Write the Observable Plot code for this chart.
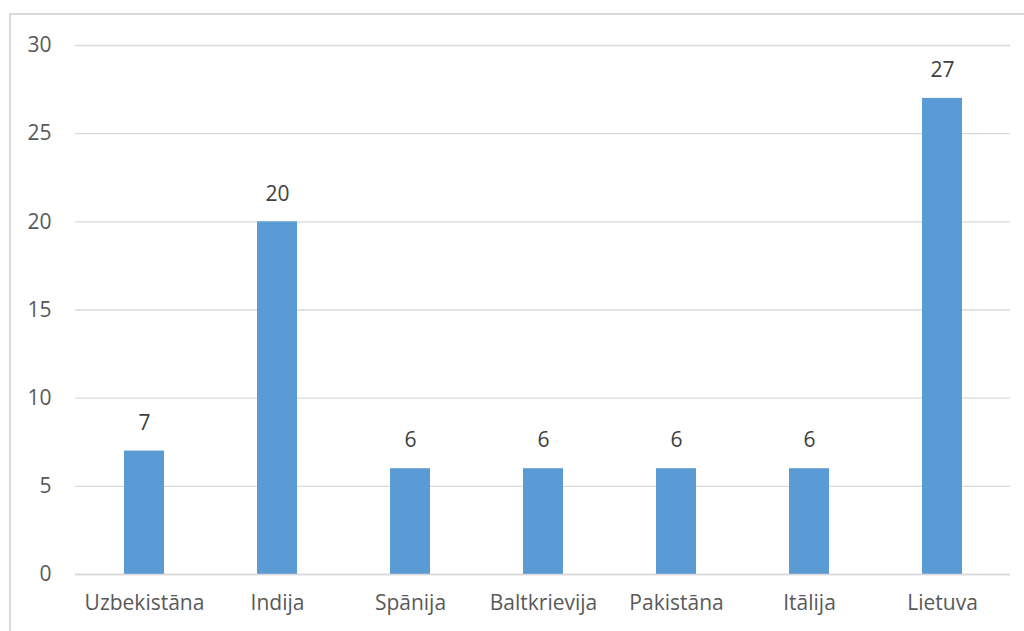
<!DOCTYPE html>
<html>
<head>
<meta charset="utf-8">
<script src="https://cdn.jsdelivr.net/npm/d3@7"></script>
<script src="https://cdn.jsdelivr.net/npm/@observablehq/plot@0.6"></script>
<style>
  html, body { margin: 0; padding: 0; background: #fff; }
  #wrap { position: relative; width: 1024px; height: 631px; overflow: hidden; }
  #border { position: absolute; left: 9px; top: 13px; width: 1100px; height: 700px; border-left: 2px solid #d9d9d9; border-top: 2px solid #d9d9d9; box-sizing: border-box; }
  #chart { position: absolute; left: 0; top: 0; }
</style>
</head>
<body>
<div id="wrap"><div id="border"></div><div id="chart"></div></div>
<script>
const categories = ["Uzbekistāna", "Indija", "Spānija", "Baltkrievija", "Pakistāna", "Itālija", "Lietuva"];
const values = [7, 20, 6, 6, 6, 6, 27];
const yTicks = [0, 5, 10, 15, 20, 25, 30];

const data = categories.map((c, i) => ({category: c, value: values[i]}));
const font = "'Open Sans', 'Noto Sans', sans-serif";

const chart = Plot.plot({
  width: 1024,
  height: 631,
  marginLeft: 75,
  marginRight: 14,
  marginTop: 45,
  marginBottom: 57,
  style: {fontFamily: font, fontSize: "21px", background: "transparent"},
  x: {domain: categories, paddingInner: 0.7, paddingOuter: 0.34, label: null},
  y: {domain: [0, 30], label: null},
  marks: [
    Plot.gridY(yTicks, {stroke: "#d9d9d9", strokeOpacity: 1, strokeWidth: 1.3}),
    Plot.axisY(yTicks, {tickSize: 0, tickPadding: 24, fill: "#595959", fontSize: 21, label: null}),
    Plot.axisX({tickSize: 0, tickPadding: 21, fill: "#595959", fontSize: 21, label: null}),
    Plot.barY(data, {x: "category", y: "value", fill: "#5b9bd5"}),
    Plot.ruleY([0], {stroke: "#d9d9d9", strokeWidth: 1.3}),
    Plot.text(data, {x: "category", y: "value", text: d => String(d.value), dy: -28, fill: "#404040", fontSize: 21})
  ]
});
document.getElementById("chart").appendChild(chart);
</script>
</body>
</html>
